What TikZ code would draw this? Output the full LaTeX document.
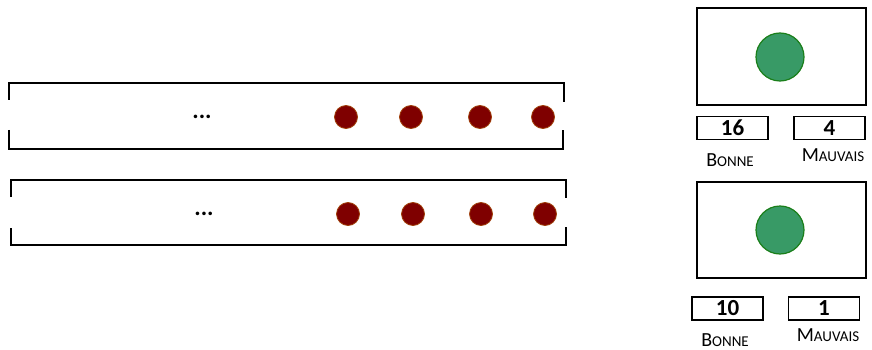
\documentclass[tikz,border=0pt]{standalone}
\usepackage{fontspec}
\setmainfont{Carlito}
\definecolor{dotred}{HTML}{7F0000}
\definecolor{dotedge}{HTML}{A0400A}
\definecolor{gfill}{HTML}{389A66}
\definecolor{gedge}{HTML}{1A7F1A}
\begin{document}
\begin{tikzpicture}[x=1pt,y=-1pt,
  tube/.style={line width=2pt},
  bead/.style={circle,fill=dotred,draw=dotedge,line width=0.8pt,minimum size=23pt,inner sep=0pt},
  frame/.style={draw,line width=1.6pt,inner sep=0pt},
  ball/.style={circle,fill=gfill,draw=gedge,line width=1.2pt,minimum size=48pt,inner sep=0pt},
  count/.style={draw,line width=1.6pt,inner sep=0pt,minimum width=71pt,minimum height=23pt,font=\fontsize{23}{23}\selectfont\bfseries},
  ell/.style={inner sep=0pt,font=\fontsize{24}{24}\selectfont\bfseries},
  lab/.style={inner sep=0pt,font=\fontsize{20}{20}\selectfont}]
\useasboundingbox (0,0) rectangle (872,350);
% tube 1
\coordinate (a1) at (9,100); \coordinate (a2) at (9,83); \coordinate (a3) at (564,83); \coordinate (a4) at (564,102);
\coordinate (b1) at (9,130); \coordinate (b2) at (9,149); \coordinate (b3) at (563,149); \coordinate (b4) at (563,130);
\draw[tube] (a1) -- (a2) -- (a3) -- (a4);
\draw[tube] (b1) -- (b2) -- (b3) -- (b4);
\node[ell] (e1) at (202,117) {...};
\node[bead] (p1) at (346,117) {};
\node[bead] (p2) at (411,117) {};
\node[bead] (p3) at (480,117) {};
\node[bead] (p4) at (543,117) {};
% tube 2
\coordinate (c1) at (11,197); \coordinate (c2) at (11,180); \coordinate (c3) at (566,180); \coordinate (c4) at (566,198);
\coordinate (d1) at (11,228); \coordinate (d2) at (11,245); \coordinate (d3) at (566,245); \coordinate (d4) at (566,227);
\draw[tube] (c1) -- (c2) -- (c3) -- (c4);
\draw[tube] (d1) -- (d2) -- (d3) -- (d4);
\node[ell] (e2) at (204,214) {...};
\node[bead] (q1) at (348,214) {};
\node[bead] (q2) at (413,214) {};
\node[bead] (q3) at (481,214) {};
\node[bead] (q4) at (545,214) {};
% right panel 1
\node[frame,minimum width=169pt,minimum height=97pt] (f1) at (781.5,56.5) {};
\node[ball] (g1) at (780,57) {};
\node[count] (n1) at (732.5,128) {16};
\node[count] (m1) at (829.5,128) {4};
\node[lab] (l1) at (730,160) {B{\fontsize{15}{15}\selectfont ONNE}};
\node[lab] (k1) at (833,155) {M{\fontsize{15}{15}\selectfont AUVAIS}};
% right panel 2
\node[frame,minimum width=169pt,minimum height=96pt] (f2) at (781.5,230) {};
\node[ball] (g2) at (780,230) {};
\node[count] (n2) at (727.5,308.5) {10};
\node[count] (m2) at (824,308.5) {1};
\node[lab] (l2) at (725,340) {B{\fontsize{15}{15}\selectfont ONNE}};
\node[lab] (k2) at (828,335) {M{\fontsize{15}{15}\selectfont AUVAIS}};
\end{tikzpicture}
\end{document}
